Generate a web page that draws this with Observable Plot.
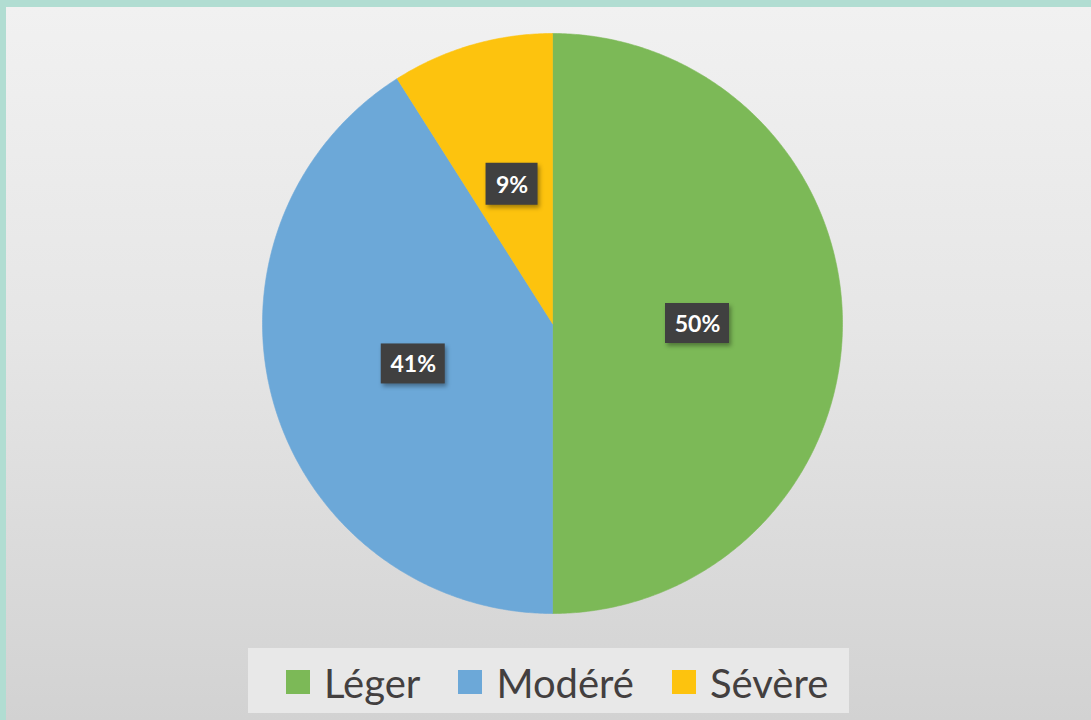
<!DOCTYPE html>
<html>
<head>
<meta charset="utf-8">
<script src="https://cdn.jsdelivr.net/npm/d3@7"></script>
<script src="https://cdn.jsdelivr.net/npm/@observablehq/plot@0.6"></script>
<style>
  html, body { margin: 0; padding: 0; }
  #frame { position: relative; width: 1091px; height: 720px; background: #b1ddd2; overflow: hidden; }
  #inner { position: absolute; left: 6px; top: 7px; right: 0; bottom: 0;
    background: linear-gradient(to bottom, #f1f1f1 0%, #e6e6e6 45%, #d2d2d2 100%); }
  #chart { position: absolute; left: 0; top: 0; }
  #legend { position: absolute; left: 248px; top: 648px; width: 601px; height: 65px; background: #e8e8e8;
    box-sizing: border-box; padding-left: 38px; padding-top: 4px; display: flex; align-items: center;
    font-family: Lato, sans-serif; font-size: 40px; color: #433f3f; white-space: nowrap; }
  .item { display: flex; align-items: center; margin-right: 38px; }
  .sw { width: 24px; height: 24px; margin-right: 14px; margin-top: -2px; }
  .lab rect { filter: drop-shadow(2px 3px 2px rgba(0,0,0,0.35)); }
</style>
</head>
<body>
<div id="frame">
  <div id="inner"></div>
  <div id="chart"></div>
  <div id="legend"></div>
</div>
<script>
const categories = ["Léger", "Modéré", "Sévère"];
const values = [50, 41, 9];
const labels = ["50%", "41%", "9%"];
const colors = ["#7cb957", "#6ca8d8", "#fdc30e"];

const data = categories.map((c, i) => ({cat: c, value: values[i], label: labels[i]}));
const arcs = d3.pie().sort(null).value(d => d.value)(data);

// slice outlines in unit-radius coordinates
const pts = [];
arcs.forEach(a => {
  const cat = a.data.cat;
  pts.push({cat, x: 0, y: 0});
  const n = Math.max(2, Math.ceil((a.endAngle - a.startAngle) / (Math.PI / 360)));
  for (let k = 0; k <= n; k++) {
    const t = a.startAngle + (a.endAngle - a.startAngle) * k / n;
    pts.push({cat, x: Math.sin(t), y: Math.cos(t)});
  }
  pts.push({cat, x: 0, y: 0});
});

const lab = arcs.map(a => {
  const m = (a.startAngle + a.endAngle) / 2;
  return {label: a.data.label, x: 0.5 * Math.sin(m), y: 0.5 * Math.cos(m)};
});

const plot = Plot.plot({
  width: 1091,
  height: 640,
  margin: 0,
  x: {domain: [-1, 1], range: [262, 842], axis: null},
  y: {domain: [-1, 1], range: [613, 33], axis: null},
  color: {domain: categories, range: colors},
  style: {background: "transparent", overflow: "visible"},
  marks: [
    Plot.line(pts, {x: "x", y: "y", z: "cat", fill: "cat", stroke: "cat", strokeWidth: 0.6, curve: "linear"}),
    Plot.rect(lab.filter(d => d.label.length > 2), {x1: "x", x2: "x", y1: "y", y2: "y",
      insetLeft: -32, insetRight: -32, insetTop: -20, insetBottom: -20, fill: "#404040", className: "lab"}),
    Plot.rect(lab.filter(d => d.label.length <= 2), {x1: "x", x2: "x", y1: "y", y2: "y",
      insetLeft: -26, insetRight: -26, insetTop: -21, insetBottom: -21, fill: "#404040", className: "lab"}),
    Plot.text(lab, {x: "x", y: "y", text: "label", fill: "white", fontSize: 23, fontWeight: "bold",
      fontFamily: "Lato, sans-serif", dy: 1})
  ]
});
document.getElementById("chart").appendChild(plot);

const leg = document.getElementById("legend");
categories.forEach((c, i) => {
  const it = document.createElement("div");
  it.className = "item";
  const sw = document.createElement("div");
  sw.className = "sw";
  sw.style.background = colors[i];
  const t = document.createElement("span");
  t.textContent = c;
  it.appendChild(sw); it.appendChild(t);
  leg.appendChild(it);
});
</script>
</body>
</html>
